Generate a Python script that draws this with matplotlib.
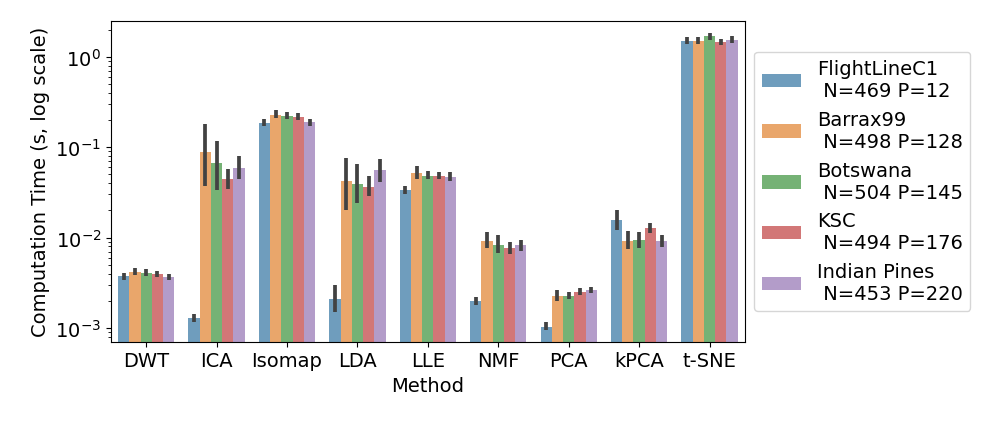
import numpy as np
import matplotlib
matplotlib.use("Agg")
import matplotlib.pyplot as plt

methods = ["DWT", "ICA", "Isomap", "LDA", "LLE", "NMF", "PCA", "kPCA", "t-SNE"]
datasets = ["FlightLineC1\n N=469 P=12", "Barrax99\n N=498 P=128", "Botswana\n N=504 P=145",
            "KSC\n N=494 P=176", "Indian Pines\n N=453 P=220"]
colors = ["#3274a1", "#e1812c", "#3a923a", "#c03d3e", "#9372b2"]

# mean values, one list per dataset (order of methods)
flightline = [3.73e-3, 1.28e-3, 0.185, 2.11e-3, 0.0334, 1.97e-3, 1.03e-3, 0.0155, 1.51]
barrax = [4.13e-3, 0.0879, 0.225, 0.0419, 0.0514, 9.17e-3, 2.24e-3, 9.1e-3, 1.48]
botswana = [4.06e-3, 0.0669, 0.221, 0.0391, 0.0484, 8.35e-3, 2.24e-3, 9.4e-3, 1.69]
ksc = [3.93e-3, 0.0441, 0.216, 0.0363, 0.048, 7.74e-3, 2.48e-3, 0.0127, 1.46]
indian = [3.63e-3, 0.0589, 0.188, 0.0559, 0.0468, 8.22e-3, 2.61e-3, 9.1e-3, 1.55]

# confidence interval lower / upper bounds
flightline_lo = [3.42e-3, 1.17e-3, 0.173, 1.49e-3, 0.0306, 1.8e-3, 9.4e-4, 0.0122, 1.39]
flightline_hi = [4.06e-3, 1.43e-3, 0.205, 2.96e-3, 0.0375, 2.2e-3, 1.16e-3, 0.0202, 1.66]
barrax_lo = [3.86e-3, 0.037, 0.209, 0.0204, 0.0445, 7.74e-3, 2.0e-3, 7.48e-3, 1.37]
barrax_hi = [4.57e-3, 0.179, 0.256, 0.0766, 0.062, 0.0114, 2.61e-3, 0.0117, 1.64]
botswana_lo = [3.79e-3, 0.0333, 0.205, 0.0241, 0.0441, 6.7e-3, 2.07e-3, 7.74e-3, 1.55]
botswana_hi = [4.5e-3, 0.117, 0.243, 0.0657, 0.0541, 0.0108, 2.48e-3, 0.0114, 1.85]
ksc_lo = [3.69e-3, 0.0345, 0.201, 0.0291, 0.0441, 6.64e-3, 2.32e-3, 0.0111, 1.34]
ksc_hi = [4.24e-3, 0.0569, 0.237, 0.048, 0.0532, 9.0e-3, 2.75e-3, 0.0145, 1.58]
indian_lo = [3.42e-3, 0.0445, 0.173, 0.0416, 0.0426, 7.17e-3, 2.44e-3, 7.8e-3, 1.43]
indian_hi = [3.93e-3, 0.080, 0.205, 0.074, 0.0527, 9.5e-3, 2.86e-3, 0.0108, 1.69]

means = [flightline, barrax, botswana, ksc, indian]
lows = [flightline_lo, barrax_lo, botswana_lo, ksc_lo, indian_lo]
highs = [flightline_hi, barrax_hi, botswana_hi, ksc_hi, indian_hi]

plt.rcParams["font.size"] = 14
fig = plt.figure(figsize=(9.97, 4.27), dpi=100)
ax = fig.add_axes([0.1113, 0.1974, 0.6357, 0.7516])

n = len(datasets)
w = 0.8 / n
x = np.arange(len(methods))
for j in range(n):
    pos = x - 0.4 + w * (j + 0.5)
    ax.bar(pos, means[j], width=w, color=colors[j], alpha=0.7, label=datasets[j])
    ax.vlines(pos, lows[j], highs[j], color=".26", linewidth=2.7, zorder=3)

ax.set_yscale("log")
ax.set_ylim(7.05e-4, 2.5)
ax.set_xlim(-0.5, len(methods) - 0.5)
ax.set_xticks(x)
ax.set_xticklabels(methods)
ax.set_xlabel("Method")
ax.set_ylabel("Computation Time (s, log scale)")
ax.legend(loc="center left", bbox_to_anchor=(1.0, 0.5))

fig.savefig("out.png", dpi=100)
